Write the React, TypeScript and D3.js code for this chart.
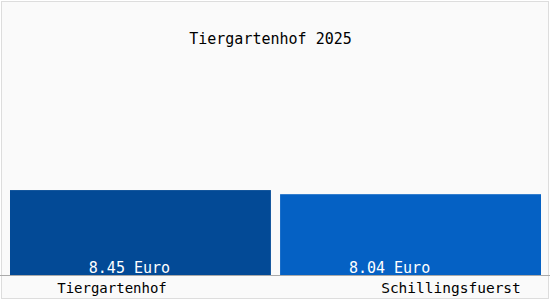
import React from "react";
import * as d3 from "d3";

const categories = ["Tiergartenhof", "Schillingsfuerst"];
const values = [8.45, 8.04];
const valueLabels = ["8.45 Euro", "8.04 Euro"];
const barColors = ["#034a96", "#0561c4"];
const title = "Tiergartenhof 2025";

const W = 550;
const H = 300;
const FONT = "'DejaVu Sans Mono', monospace";

export default function App() {
  const x = d3.scaleBand<string>().domain(categories).range([10, 541]).paddingInner(0.034).paddingOuter(0);
  const y = d3.scaleLinear().domain([0, 20]).range([275, 74]);

  return (
    <svg width={W} height={H} style={{ position: "absolute", left: 0, top: 0, display: "block" }}>
      <rect x={0} y={0} width={W} height={H} fill="#ffffff" />
      <rect x={1.5} y={1.5} width={W - 3} height={H - 3} fill="#fafafa" stroke="#dddddd" strokeWidth={1} />
      <text x={270.5} y={44} textAnchor="middle" fontFamily={FONT} fontSize={15} fill="#000">
        {title}
      </text>
      {categories.map((c, i) => (
        <rect key={c} x={x(c)} y={y(values[i])} width={x.bandwidth()} height={y(0) - y(values[i])} fill={barColors[i]} />
      ))}
      {categories.map((c, i) => (
        <text
          key={c + "v"}
          x={(x(c) as number) + x.bandwidth() / 2 - (i === 0 ? 11 : 21)}
          y={273}
          textAnchor="middle"
          fontFamily={FONT}
          fontSize={15}
          fill="#ffffff"
        >
          {valueLabels[i]}
        </text>
      ))}
      <line x1={0} x2={W} y1={275.5} y2={275.5} stroke="#aaaaaa" strokeWidth={1} />
      <text x={112} y={293} textAnchor="middle" fontFamily={FONT} fontSize={14} fill="#000">
        {categories[0]}
      </text>
      <text x={451} y={293} textAnchor="middle" fontFamily={FONT} fontSize={14.5} fill="#000">
        {categories[1]}
      </text>
    </svg>
  );
}
